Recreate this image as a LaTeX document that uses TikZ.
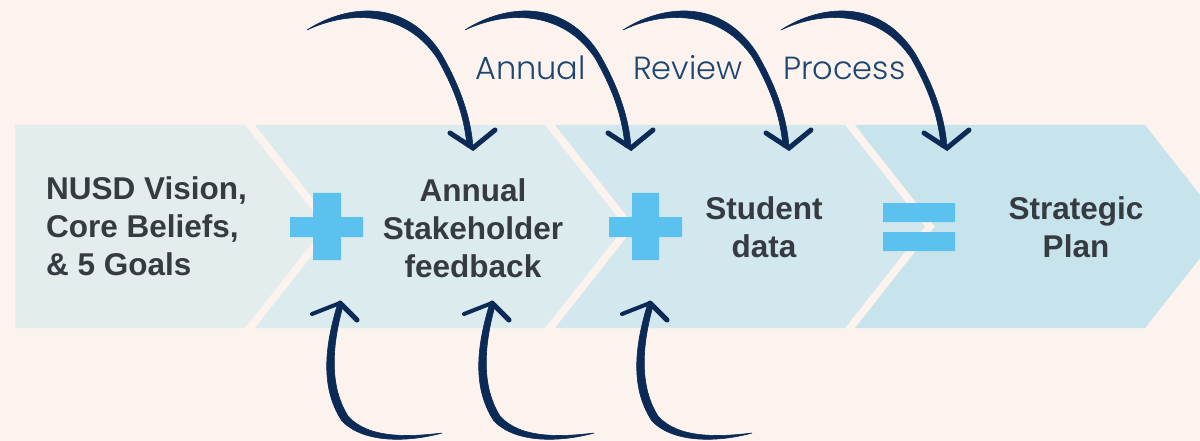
\documentclass[tikz,border=0pt]{standalone}
\usepackage{fontspec}
\setmainfont{Liberation Sans}
\newfontfamily\handfont{Poppins}[UprightFont={* Light}]
\definecolor{bg}{HTML}{FCF3EE}
\definecolor{cA}{HTML}{E3EDEE}
\definecolor{cB}{HTML}{DCEBEE}
\definecolor{cC}{HTML}{D3E7EE}
\definecolor{cD}{HTML}{C7E4EC}
\definecolor{plusc}{HTML}{5BC2F0}
\definecolor{txt}{HTML}{353B40}
\definecolor{ink}{HTML}{0B2A55}
\definecolor{handtxt}{HTML}{1D4670}
\begin{document}
\begin{tikzpicture}[x=1pt,y=-1pt,
  maintext/.style={font=\fontsize{31.5}{38}\selectfont\bfseries, text=txt, inner sep=0pt, anchor=base},
  handtext/.style={font=\handfont\fontsize{32}{38}\selectfont, text=handtxt, inner sep=0pt, anchor=base west},
  barb/.style={draw=ink, line width=5pt, line cap=round},
  toparrow/.pic={
    \fill[ink, draw=ink, line width=0.6pt] (0,0) .. controls (40,-26) and (100,-32) .. (135,25)
      .. controls (155,60) and (164,90) .. (166,117)
      -- (160,117) .. controls (158,91) and (150,63) .. (130,28)
      .. controls (97,-21) and (40,-19) .. (0,0) -- cycle;
    \draw[barb] (143,103) -- (166,118) -- (188,100);
  },
  botarrow/.pic={
    \fill[ink, draw=ink, line width=0.6pt] (-3,3) .. controls (-13,37) and (-22,82) .. (2,118)
      .. controls (24,141) and (70,139) .. (102,130)
      .. controls (70,134) and (28,136) .. (8,113)
      .. controls (-13,80) and (-6,35) .. (3,3) -- cycle;
    \draw[barb, line width=4pt] (-28,11) -- (0,0);
    \draw[barb] (0,0) -- (17,17);
  }
]
\useasboundingbox (0,0) rectangle (1200,441);
\fill[bg] (0,0) rectangle (1200,441);
\begin{scope}
\clip (0,0) rectangle (1200,441);
\fill[cA] (15,125) -- (245,125) -- (325,226.5) -- (245,328) -- (15,328) -- cycle;
\fill[cB] (255,125) -- (545,125) -- (625,226.5) -- (545,328) -- (255,328) -- (335,226.5) -- cycle;
\fill[cC] (555,125) -- (845,125) -- (925,226.5) -- (845,328) -- (555,328) -- (635,226.5) -- cycle;
\fill[cD] (855,125) -- (1145,125) -- (1225,226.5) -- (1145,328) -- (855,328) -- (935,226.5) -- cycle;
\end{scope}
% operators
\fill[plusc] (290,217) rectangle (363,237) (313,193) rectangle (341,260);
\fill[plusc] (609,217) rectangle (682,237) (632,193) rectangle (659,260);
\fill[plusc] (883,203) rectangle (955,222) (883,232) rectangle (955,251);
% texts (base anchor = last line baseline)
\node[maintext, align=left, anchor=base west] (vision) at (46,275) {NUSD Vision,\\Core Beliefs,\\\& 5 Goals};
\node[maintext, align=center] (stake) at (473,277) {Annual\\Stakeholder\\feedback};
\node[maintext, align=center] (student) at (764,257) {Student\\data};
\node[maintext, align=center] (plan) at (1076,257) {Strategic\\Plan};
\node[handtext] (wA) at (475,80) {Annual};
\node[handtext] (wR) at (633,80) {Review};
\node[handtext] (wP) at (783,80) {Process};
% arrow anchors
\coordinate (t1) at (307,30);
\coordinate (t2) at (465,30);
\coordinate (t3) at (623,30);
\coordinate (t4) at (781,30);
\coordinate (b1) at (340,303);
\coordinate (b2) at (492,303);
\coordinate (b3) at (650,303);
\foreach \c in {t1,t2,t3,t4} { \pic at (\c) {toparrow}; }
\foreach \c in {b1,b2,b3} { \pic at (\c) {botarrow}; }
\end{tikzpicture}
\end{document}
